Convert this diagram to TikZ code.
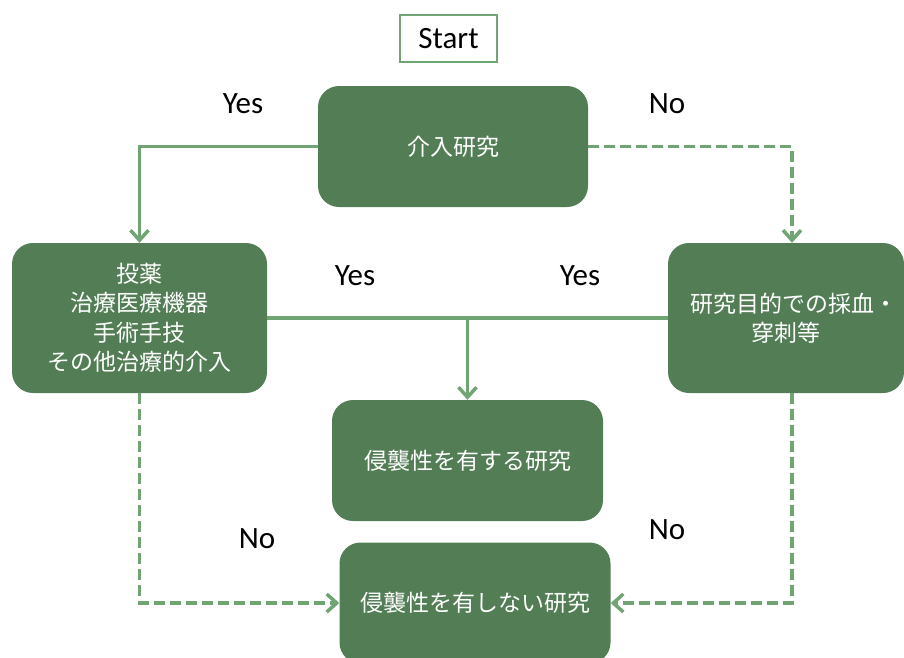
\documentclass[tikz,border=0pt]{standalone}
\usepackage{fontspec}
\setmainfont{Carlito}
\newfontfamily\cjk{Noto Sans CJK JP}
\usetikzlibrary{arrows.meta}
\definecolor{boxfill}{RGB}{82,125,85}
\definecolor{linec}{RGB}{112,165,115}
\tikzset{
  gbox/.style={draw=none, fill=boxfill, rounded corners=21pt, inner sep=0pt,
    text=white, font=\cjk\fontsize{23}{29.5}\selectfont, align=center},
  lab/.style={font=\fontsize{31}{36}\selectfont, inner sep=0pt},
  conn/.style={draw=linec, line width=3.5pt, -{Straight Barb[length=10pt,width=18pt,line width=3.5pt]}},
  plain/.style={draw=linec, line width=3.5pt},
  dsh/.style={dash pattern=on 11pt off 5pt},
}
\begin{document}
\begin{tikzpicture}[x=1pt,y=-1pt]
\useasboundingbox (0,0) rectangle (904,657);
\node[draw=linec, line width=2.5pt, minimum width=97pt, minimum height=47pt, inner sep=0pt,
  font=\fontsize{31}{36}\selectfont] (start) at (448.5,38.5) {Start};
\node[gbox, minimum width=270pt, minimum height=121pt] (kainyu) at (453,146.5) {介入研究};
\node[gbox, minimum width=255pt, minimum height=150pt] (left) at (139.5,318) {投薬\\治療医療機器\\手術手技\\その他治療的介入};
\node[gbox, minimum width=236pt, minimum height=150pt] (right) at (786,318) {\hspace*{16pt}研究目的での採血・\\穿刺等};
\node[gbox, minimum width=271pt, minimum height=121pt] (shin) at (467.5,460.5) {侵襲性を有する研究};
\node[gbox, minimum width=271pt, minimum height=121pt] (noshin) at (475,603) {侵襲性を有しない研究};
\coordinate (lcorner) at (139.5,146.5);
\coordinate (rcorner) at (792,146.5);
\coordinate (junc) at (467.5,318);
\coordinate (lbot) at (139.5,603);
\coordinate (rbot) at (792,603);
\draw[conn] (kainyu.west) -- (lcorner) -- (left.north);
\draw[conn, dsh] (kainyu.east) -- (rcorner) -- (rcorner |- right.north);
\draw[plain] (left.east) -- (right.west);
\draw[conn] (junc) -- (shin.north);
\draw[conn, dsh] (left.south) -- (lbot) -- (noshin.west);
\draw[conn, dsh] (rcorner |- right.south) -- (rbot) -- (noshin.east);
\node[lab] (y1) at (243,104) {Yes};
\node[lab] (n1) at (667,104) {No};
\node[lab] (y2) at (355,276) {Yes};
\node[lab] (y3) at (580,276) {Yes};
\node[lab] (n2) at (257,539) {No};
\node[lab] (n3) at (667,530) {No};
\end{tikzpicture}
\end{document}
